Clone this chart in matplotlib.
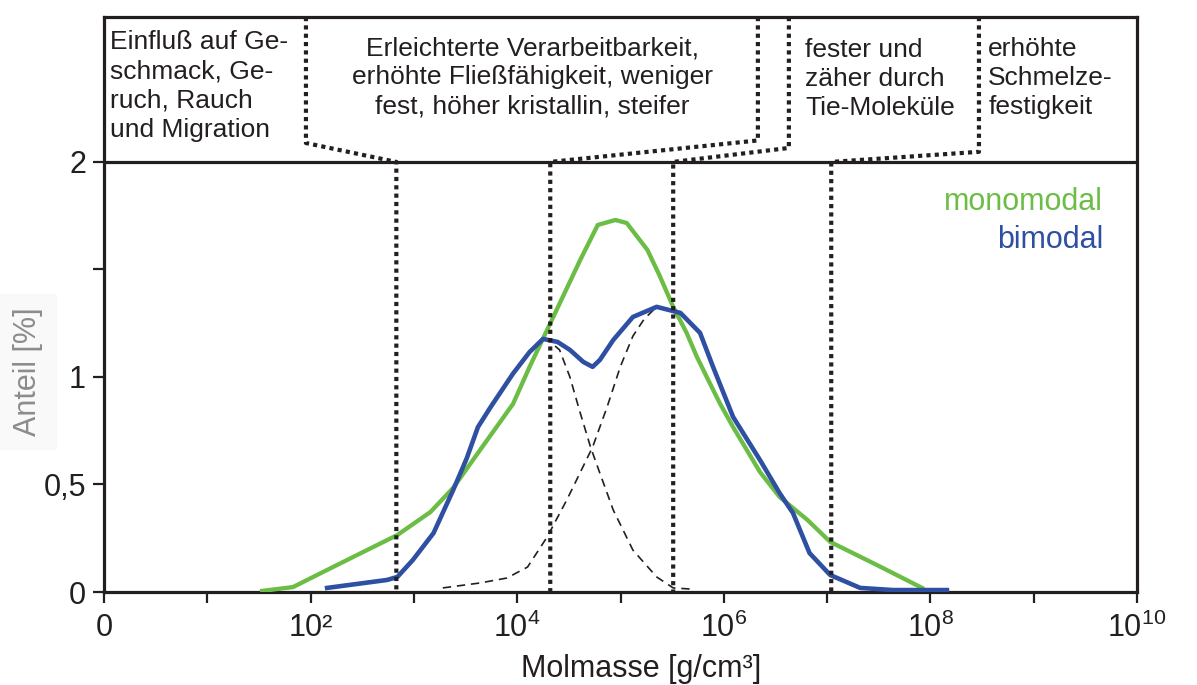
import matplotlib.pyplot as plt

plt.rcParams['font.family'] = ['Liberation Sans', 'DejaVu Sans']

INK = '#231f20'
GREEN = '#6cbd45'
BLUE = '#2e4fa2'

# molar mass as log10(M), share in %
mono_logm = [1.53, 1.83, 2.12, 2.45, 2.84, 3.16, 3.38, 3.64, 3.96, 4.12, 4.29,
             4.61, 4.78, 4.95, 5.06, 5.26, 5.38, 5.51, 5.64, 5.74, 5.84, 5.96,
             6.09, 6.35, 6.54, 6.81, 7.03, 7.48, 7.92]
mono_share = [0.005, 0.023, 0.093, 0.172, 0.265, 0.372, 0.484, 0.660, 0.875,
              1.047, 1.219, 1.544, 1.707, 1.730, 1.716, 1.591, 1.470, 1.326,
              1.205, 1.093, 0.995, 0.879, 0.767, 0.558, 0.442, 0.335, 0.233,
              0.126, 0.019]

bi_logm = [2.16, 2.74, 2.84, 2.99, 3.19, 3.38, 3.51, 3.62, 3.74, 3.96, 4.12,
           4.25, 4.39, 4.51, 4.64, 4.73, 4.80, 4.93, 5.12, 5.35, 5.58, 5.77,
           5.90, 6.09, 6.35, 6.54, 6.67, 6.83, 7.03, 7.32, 7.64, 8.16]
bi_share = [0.019, 0.056, 0.070, 0.149, 0.274, 0.474, 0.620, 0.767, 0.858,
            1.016, 1.116, 1.177, 1.163, 1.126, 1.070, 1.047, 1.079, 1.172,
            1.279, 1.326, 1.298, 1.205, 1.042, 0.814, 0.614, 0.460, 0.367,
            0.181, 0.079, 0.019, 0.009, 0.009]

# component curves of the bimodal distribution
low_logm = [4.25, 4.32, 4.41, 4.51, 4.61, 4.71, 4.80, 4.93, 5.12, 5.35, 5.51, 5.67]
low_share = [1.177, 1.163, 1.126, 1.000, 0.833, 0.674, 0.553, 0.381, 0.195,
             0.070, 0.019, 0.014]
high_logm = [3.28, 3.64, 3.90, 4.10, 4.29, 4.48, 4.73, 4.87, 5.00, 5.12, 5.23, 5.35]
high_share = [0.019, 0.042, 0.065, 0.116, 0.256, 0.428, 0.674, 0.860, 1.050,
              1.190, 1.270, 1.326]

# region borders: x at top of box, y of the bend, x below the 2-line
border_top = [1.955, 6.33, 6.63, 8.47]
border_bend = [2.088, 2.10, 2.065, 2.047]
border_low = [2.83, 4.32, 5.51, 7.04]

region_texts = [
    'Einfluß auf Ge-\nschmack, Ge-\nruch, Rauch\nund Migration',
    'Erleichterte Verarbeitbarkeit,\nerhöhte Fließfähigkeit, weniger\nfest, höher kristallin, steifer',
    'fester und\nzäher durch\nTie-Moleküle',
    'erhöhte\nSchmelze-\nfestigkeit',
]
region_x = [0.06, 4.15, 6.79, 8.56]
region_ha = ['left', 'center', 'left', 'left']
region_top = [2.614, 2.585, 2.578, 2.582]

x_ticks = list(range(11))
x_labels = ['0', '', '10²', '', '$\\mathregular{10^{4}}$', '', '$\\mathregular{10^{6}}$', '',
            '$\\mathregular{10^{8}}$', '', '$\\mathregular{10^{10}}$']
y_ticks = [0, 0.5, 1, 1.5, 2]
y_labels = ['0', '0,5', '1', '', '2']

Y_TOP = 2.674

fig = plt.figure(figsize=(11.97, 6.85), dpi=100)
ax = fig.add_axes([104 / 1197, 1 - 592 / 685, 1033 / 1197, 575 / 685])
ax.set_xlim(0, 10)
ax.set_ylim(0, Y_TOP)

for s in ax.spines.values():
    s.set_linewidth(2.3)
    s.set_color(INK)

ax.axhline(2, color=INK, lw=2.3, zorder=5)

ax.plot(high_logm, high_share, color=INK, lw=1.2, dashes=(5, 3.5), zorder=2)
ax.plot(low_logm, low_share, color=INK, lw=1.2, dashes=(5, 3.5), zorder=2)
ax.plot(mono_logm, mono_share, color=GREEN, lw=3.1, solid_joinstyle='round', zorder=3)
ax.plot(bi_logm, bi_share, color=BLUE, lw=3.3, solid_joinstyle='round', zorder=3)

for xt, yb, xl in zip(border_top, border_bend, border_low):
    ax.plot([xt, xt, xl, xl], [Y_TOP, yb, 2.0, 0], color=INK, lw=3.0,
            linestyle=(0, (1, 1)), zorder=4)

for txt, x, ha, y in zip(region_texts, region_x, region_ha, region_top):
    ax.text(x, y, txt, ha=ha, va='top', fontsize=19, color=INK,
            linespacing=1.28, multialignment=ha)

ax.text(9.67, 1.814, 'monomodal', color=GREEN, fontsize=22, ha='right', va='center')
ax.text(9.67, 1.637, 'bimodal', color=BLUE, fontsize=22, ha='right', va='center')

ax.set_xticks(x_ticks)
ax.set_xticklabels(x_labels)
ax.set_yticks(y_ticks)
ax.set_yticklabels(y_labels)
ax.tick_params(axis='both', direction='out', length=8, width=1.6, color=INK,
               labelcolor=INK, labelsize=22)
ax.tick_params(axis='y', pad=5)
ax.tick_params(axis='x', pad=7)

ax.set_xlabel('Molmasse [g/cm³]', fontsize=22, color=INK)
ax.xaxis.set_label_coords(0.52, -0.108)

fig.text(28 / 1197, 1 - 372 / 685, 'Anteil [%]', rotation=90, ha='center',
         va='center', fontsize=22, color='#8c8c8c',
         bbox=dict(boxstyle='square,pad=0.45', facecolor='#f9f9f9', edgecolor='none'))

fig.savefig('out.png', dpi=100)
